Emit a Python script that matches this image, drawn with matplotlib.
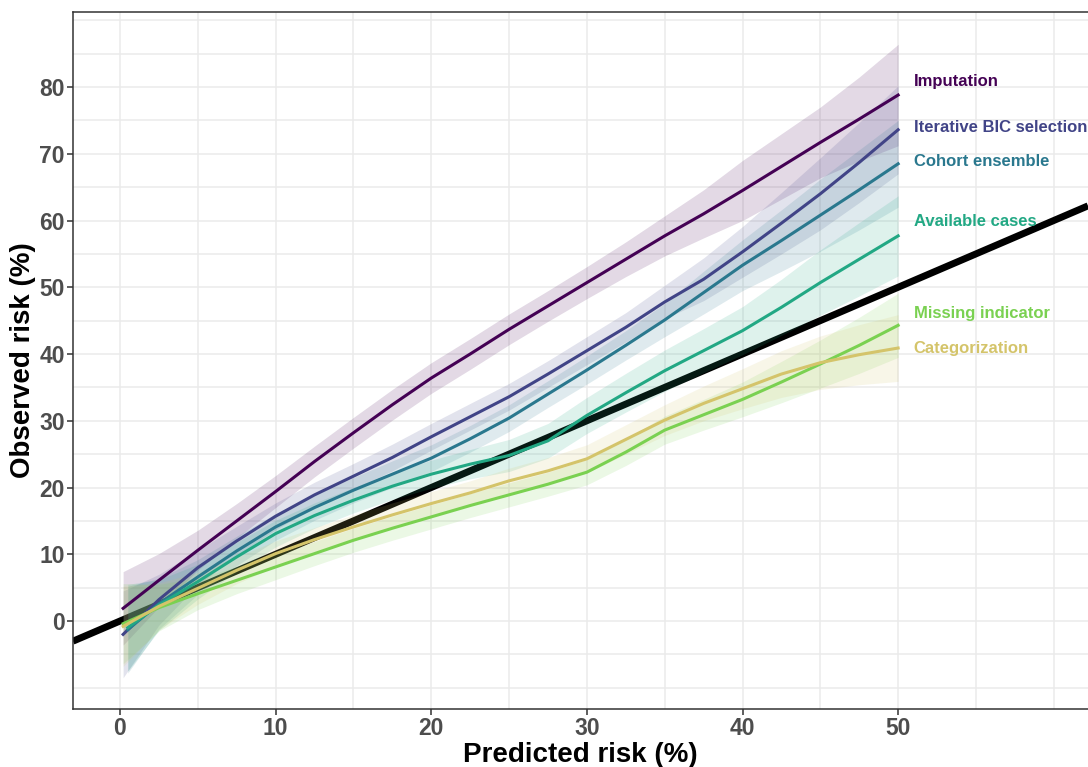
import numpy as np
import matplotlib.pyplot as plt

plt.rcParams['font.family'] = ['Liberation Sans', 'DejaVu Sans']

# predicted risk (%) at which each calibration curve is evaluated
pred_risk = [0.2, 2.5, 5, 7.5, 10, 12.5, 15, 17.5, 20, 22.5, 25, 27.5, 30,
             32.5, 35, 37.5, 40, 42.5, 45, 47.5, 50]
pred_risk_late = [0.5] + pred_risk[1:]  # two models start slightly later

methods = ['Imputation', 'Iterative BIC selection', 'Cohort ensemble',
           'Available cases', 'Missing indicator', 'Categorization']
colors = ['#440154', '#414487', '#2A788E', '#22A884', '#7AD151', '#D4C46A']

# observed risk (%) per method
obs_imputation = [1.9, 6.1, 10.6, 15.0, 19.4, 23.9, 28.2, 32.4, 36.4, 40.0, 43.7,
                  47.2, 50.7, 54.2, 57.7, 61.0, 64.5, 68.1, 71.7, 75.2, 78.8]
obs_bic = [-2.0, 3.2, 8.0, 12.0, 15.7, 18.9, 21.7, 24.5, 27.6, 30.6, 33.6,
           37.0, 40.5, 44.0, 47.8, 51.2, 55.3, 59.6, 64.0, 68.7, 73.6]
obs_ensemble = [-1.3, 2.6, 6.6, 10.5, 14.1, 17.0, 19.6, 22.0, 24.4, 27.3, 30.4,
                34.0, 37.6, 41.3, 45.1, 49.2, 53.3, 57.0, 60.8, 64.6, 68.5]
obs_available = [-1.0, 2.4, 5.9, 9.6, 13.1, 15.8, 18.1, 20.2, 22.0, 23.5, 24.8,
                 27.0, 30.8, 34.2, 37.5, 40.5, 43.5, 47.0, 50.7, 54.2, 57.7]
obs_missing = [-0.4, 2.0, 4.1, 6.1, 8.1, 10.1, 12.1, 13.9, 15.6, 17.3, 18.9,
               20.5, 22.3, 25.3, 28.6, 30.9, 33.2, 35.8, 38.5, 41.3, 44.3]
obs_categ = [-0.8, 2.2, 4.9, 7.6, 10.1, 12.2, 14.1, 15.9, 17.6, 19.2, 21.0,
             22.5, 24.3, 27.2, 30.1, 32.6, 34.8, 37.0, 38.7, 39.9, 40.9]

# half width of the 95% confidence band
ci_imputation = [5.5, 4.0, 3.0, 2.6, 2.4, 2.3, 2.3, 2.3, 2.3, 2.3, 2.3,
                 2.3, 2.4, 2.6, 3.0, 3.6, 4.5, 4.9, 5.3, 6.3, 7.6]
ci_bic = [6.5, 3.8, 2.6, 2.2, 2.0, 1.9, 1.9, 2.0, 2.0, 2.0, 2.0,
          2.0, 2.1, 2.2, 2.5, 3.2, 3.8, 4.6, 5.4, 6.0, 6.6]
ci_ensemble = [6.5, 3.8, 2.6, 2.2, 2.0, 1.9, 1.9, 2.0, 2.0, 2.0, 2.0,
               2.0, 2.1, 2.2, 2.5, 3.2, 3.8, 4.6, 5.4, 6.0, 6.5]
ci_available = [6.5, 3.8, 2.6, 2.2, 2.0, 1.9, 1.9, 2.0, 2.1, 2.2, 2.4,
                2.6, 2.7, 2.9, 3.1, 3.3, 3.6, 4.2, 4.9, 5.5, 6.0]
ci_missing = [6.0, 3.5, 2.4, 2.0, 1.9, 1.8, 1.8, 1.8, 1.8, 1.8, 1.8,
              1.8, 1.9, 2.0, 2.1, 2.3, 2.6, 3.1, 3.6, 4.2, 4.8]
ci_categ = [6.0, 3.5, 2.4, 2.0, 1.9, 1.8, 1.8, 1.8, 1.8, 1.8, 1.9,
            2.0, 2.1, 2.2, 2.3, 2.6, 3.0, 3.5, 4.0, 4.5, 5.0]

# where the method names sit on the right
label_x = 51
label_y = [80.9, 74.0, 68.9, 59.9, 46.0, 40.9]

x_grid = [pred_risk, pred_risk, pred_risk_late, pred_risk_late, pred_risk, pred_risk]
obs = [obs_imputation, obs_bic, obs_ensemble, obs_available, obs_missing, obs_categ]
ci = [ci_imputation, ci_bic, ci_ensemble, ci_available, ci_missing, ci_categ]

fig = plt.figure(figsize=(10.88, 7.67), dpi=100)
ax = fig.add_axes([73 / 1088, 58 / 767, 1 - 73 / 1088, 697 / 767])

# perfect calibration line goes underneath the bands
ax.axline((0, 0), slope=1, color='black', linewidth=5, zorder=2,
          solid_capstyle='butt')

for xs, ys, hw, col in zip(x_grid, obs, ci, colors):
    xs = np.array(xs)
    ys = np.array(ys)
    hw = np.array(hw)
    ax.fill_between(xs, ys - hw, ys + hw, color=col, alpha=0.15, linewidth=0,
                    zorder=3)
for xs, ys, col in zip(x_grid, obs, colors):
    ax.plot(xs, ys, color=col, linewidth=2.2, zorder=4)

for name, ly, col in zip(methods, label_y, colors):
    ax.text(label_x, ly, name, color=col, fontsize=12, fontweight='bold',
            ha='left', va='center', clip_on=False, zorder=5)

ax.set_xticks(np.arange(0, 51, 10))
ax.set_yticks(np.arange(0, 81, 10))
ax.set_xticks([5, 15, 25, 35, 45, 55, 60], minor=True)
ax.set_yticks([-10, -5, 5, 15, 25, 35, 45, 55, 65, 75, 85, 90], minor=True)
ax.set_xlim(-3.02, 62.2)
ax.set_ylim(-13.18, 91.24)
ax.grid(which='both', color='#EBEBEB', linewidth=1.1, zorder=0)
ax.set_axisbelow(True)
ax.tick_params(which='major', length=4.5, width=1.1, color='#333333',
               labelsize=16.5, labelcolor='#4D4D4D', pad=1.5)
ax.tick_params(which='minor', length=0)
for lab in ax.get_xticklabels() + ax.get_yticklabels():
    lab.set_fontweight('bold')

for side in ['left', 'bottom', 'top']:
    ax.spines[side].set_color('#333333')
    ax.spines[side].set_linewidth(1.1)
ax.spines['right'].set_visible(False)

ax.set_xlabel('Predicted risk (%)', fontsize=20, fontweight='bold', labelpad=1)
ax.set_ylabel('Observed risk (%)', fontsize=20, fontweight='bold', labelpad=2.5)

fig.savefig('out.png', dpi=100)
